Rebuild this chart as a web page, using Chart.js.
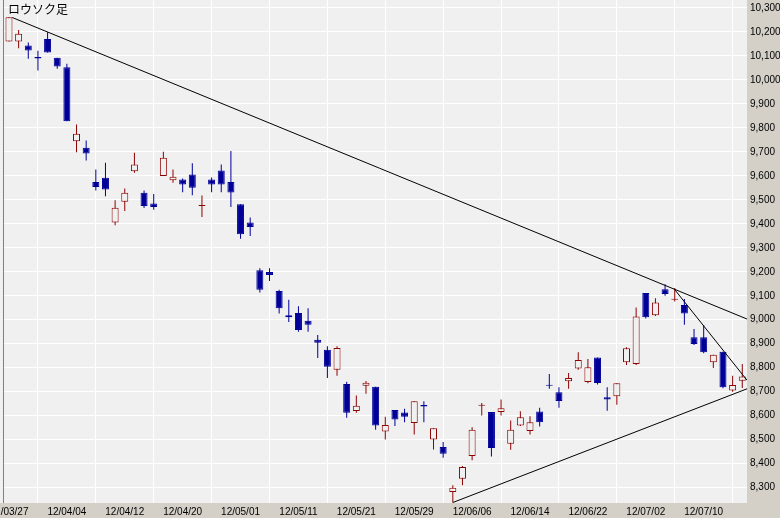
<!DOCTYPE html>
<html><head><meta charset="utf-8">
<script src="https://cdn.jsdelivr.net/npm/chart.js@4.4.1/dist/chart.umd.min.js"></script>
<style>html,body{margin:0;padding:0;background:#d4d0c8;}canvas{display:block;}</style>
</head><body>
<canvas id="c" width="780" height="518"></canvas>
<script>
const titleText = 'ロウソク足';
const dates = ['12/03/27','12/03/28','12/03/29','12/03/30','12/04/02','12/04/03','12/04/04','12/04/05','12/04/06','12/04/09',
 '12/04/10','12/04/11','12/04/12','12/04/13','12/04/16','12/04/17','12/04/18','12/04/19','12/04/20','12/04/23',
 '12/04/24','12/04/25','12/04/26','12/04/27','12/05/01','12/05/02','12/05/07','12/05/08','12/05/09','12/05/10',
 '12/05/11','12/05/14','12/05/15','12/05/16','12/05/17','12/05/18','12/05/21','12/05/22','12/05/23','12/05/24',
 '12/05/25','12/05/28','12/05/29','12/05/30','12/05/31','12/06/01','12/06/04','12/06/05','12/06/06','12/06/07',
 '12/06/08','12/06/11','12/06/12','12/06/13','12/06/14','12/06/15','12/06/18','12/06/19','12/06/20','12/06/21',
 '12/06/22','12/06/25','12/06/26','12/06/27','12/06/28','12/06/29','12/07/02','12/07/03','12/07/04','12/07/05',
 '12/07/06','12/07/09','12/07/10','12/07/11','12/07/12','12/07/13','12/07/17'];
const openV  = [10160,10160,10143,10095,10170,10092,10053,9744,9717,9574,9592,9405,9492,9619,9529,9485,9599,9582,9585,9606,
 9474,9585,9622,9574,9481,9405,9206,9199,9120,9019,9028,8996,8917,8875,8792,8732,8620,8725,8721,8534,
 8624,8613,8569,8645,8501,8469,8282,8337,8432,8641,8615,8615,8483,8559,8536,8617,8729,8698,8744,8797,
 8740,8843,8677,8681,8823,8816,9111,9019,9127,9083,9061,8927,8927,8823,8867,8705,8746];
const highV  = [10261,10208,10156,10121,10199,10092,10067,9814,9747,9626,9654,9498,9547,9696,9539,9524,9700,9626,9589,9652,
 9518,9593,9647,9703,9481,9426,9215,9215,9125,9083,9056,9048,8936,8889,8889,8742,8684,8745,8721,8596,
 8624,8629,8660,8660,8548,8490,8310,8390,8552,8653,8615,8667,8580,8619,8598,8633,8774,8719,8778,8864,
 8836,8843,8719,8735,8885,9051,9111,9090,9148,9132,9086,8961,8978,8854,8867,8767,8816];
const lowV   = [10160,10132,10088,10039,10114,10046,9827,9698,9664,9539,9515,9394,9453,9613,9466,9459,9599,9571,9531,9519,
 9428,9531,9531,9470,9338,9349,9114,9162,9026,8991,8950,8950,8841,8757,8767,8591,8612,8691,8541,8501,
 8557,8573,8522,8573,8459,8425,8238,8310,8414,8601,8430,8601,8458,8557,8522,8555,8712,8633,8712,8792,
 8735,8730,8621,8646,8811,8811,9005,9016,9100,9076,8979,8895,8860,8799,8714,8700,8715];
const closeV = [10261,10192,10122,10089,10114,10056,9827,9775,9693,9553,9543,9467,9529,9647,9474,9470,9675,9596,9564,9550,
 9478,9564,9564,9530,9356,9387,9125,9187,9048,9010,8957,8979,8904,8804,8882,8612,8641,8737,8559,8561,
 8584,8596,8660,8638,8548,8441,8300,8386,8541,8646,8465,8631,8541,8594,8573,8573,8725,8661,8757,8832,
 8802,8736,8667,8735,8881,9014,9010,9072,9107,9087,9026,8899,8864,8854,8719,8728,8763];
// trend lines (index, value) start and end
const upperLineX = [0.34, 76.49];  const upperLineY = [10260, 9003];
const lowerLineX = [46, 76.49];    const lowerLineY = [8238, 8712];
const steepLineX = [68.95, 76.49]; const steepLineY = [9128, 8748];
const xTickIdx = [0,6,12,18,24,30,36,42,48,54,60,66,72];
const yTicks = [8300,8400,8500,8600,8700,8800,8900,9000,9100,9200,9300,9400,9500,9600,9700,9800,9900,10000,10100,10200,10300];

const UP = '#8c0000', DOWN = '#000099', PLOTBG = '#f0f0f0', PANEL = '#d4d0c8';
const isUp = closeV.map((c,i)=> c >= openV[i]);

const bgPlugin = {
  id:'bg',
  beforeDraw(chart){
    const ctx = chart.ctx, a = chart.chartArea;
    ctx.save();
    ctx.fillStyle = PANEL; ctx.fillRect(0,0,chart.width,chart.height);
    ctx.fillStyle = PLOTBG; ctx.fillRect(0,0,a.right,a.bottom);
    ctx.restore();
  },
  afterDraw(chart){
    const ctx = chart.ctx, a = chart.chartArea;
    ctx.save();
    ctx.strokeStyle = '#808080'; ctx.lineWidth = 1;
    ctx.beginPath(); ctx.moveTo(a.left+0.5, 0); ctx.lineTo(a.left+0.5, a.bottom); ctx.stroke();
    ctx.fillStyle = '#000'; ctx.font = '12px "Noto Sans CJK JP", sans-serif';
    ctx.textBaseline = 'middle'; ctx.textAlign = 'left';
    ctx.fillText(titleText, 8, 9);
    ctx.restore();
  }
};

const idx = dates.map((d,i)=>i);
new Chart(document.getElementById('c'), {
  type:'bar',
  data:{
    datasets:[
      {type:'line', order:0, data:upperLineX.map((x,i)=>({x, y:upperLineY[i]})), borderColor:'#000', borderWidth:1, pointRadius:0, fill:false},
      {type:'line', order:0, data:lowerLineX.map((x,i)=>({x, y:lowerLineY[i]})), borderColor:'#000', borderWidth:1, pointRadius:0, fill:false},
      {type:'line', order:0, data:steepLineX.map((x,i)=>({x, y:steepLineY[i]})), borderColor:'#000', borderWidth:1, pointRadius:0, fill:false},
      {order:1, grouped:false, barThickness:7, inflateAmount:0, borderSkipped:false, borderWidth:1,
       data: idx.map(i=>({x:i, y:[openV[i], closeV[i]]})),
       backgroundColor: idx.map(i=> isUp[i] ? PLOTBG : DOWN),
       borderColor: idx.map(i=> isUp[i] ? UP : DOWN)},
      {order:2, grouped:false, barThickness:1, inflateAmount:0, borderWidth:0,
       data: idx.map(i=>({x:i, y:[lowV[i], highV[i]]})),
       backgroundColor: idx.map(i=> isUp[i] ? UP : DOWN)}
    ]
  },
  options:{
    responsive:false, animation:false, devicePixelRatio:1, events:[],
    layout:{padding:{left:3,right:0,top:0,bottom:0}},
    plugins:{legend:{display:false}, tooltip:{enabled:false}},
    scales:{
      x:{type:'linear', min:-0.62, max:76.49, offset:false,
         grid:{color:'#ffffff', lineWidth:1, drawTicks:false},
         border:{display:false},
         afterBuildTicks:(s)=>{ s.ticks = xTickIdx.map(v=>({value:v})); },
         afterFit:(s)=>{ s.height = 15; s.paddingLeft = 0; s.paddingRight = 0; },
         ticks:{autoSkip:false, maxRotation:0, padding:3, color:'#000',
                font:{family:'"Liberation Sans", Arial, sans-serif', size:10},
                callback:(v)=> dates[v] }},
      y:{position:'right', min:8236, max:10333,
         grid:{color:'#ffffff', lineWidth:1, drawTicks:false},
         border:{display:false},
         afterBuildTicks:(s)=>{ s.ticks = yTicks.map(v=>({value:v})); },
         afterFit:(s)=>{ s.width = 33; s.paddingTop = 0; s.paddingBottom = 0; },
         ticks:{autoSkip:false, padding:3, color:'#000',
                font:{family:'"Liberation Sans Narrow", "Liberation Sans", Arial, sans-serif', size:10},
                callback:(v)=> v.toLocaleString('en-US') }}
    }
  },
  plugins:[bgPlugin]
});
</script>
</body></html>
